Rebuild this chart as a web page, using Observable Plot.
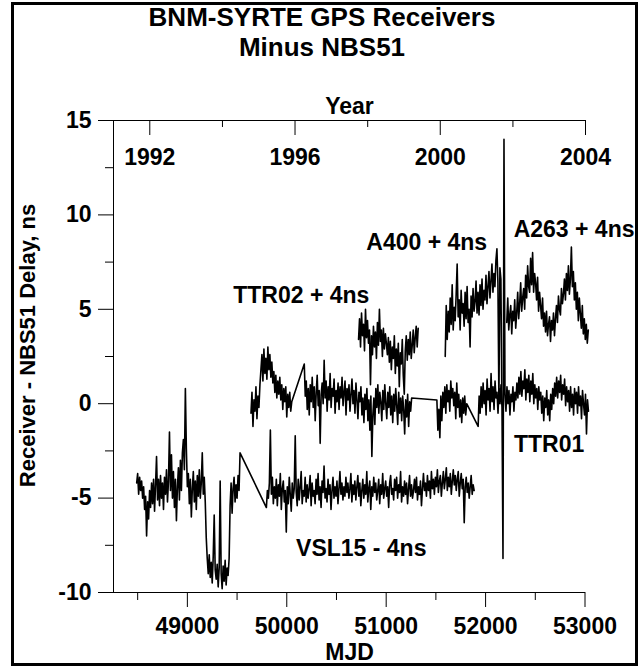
<!DOCTYPE html>
<html>
<head>
<meta charset="utf-8">
<script src="https://cdn.jsdelivr.net/npm/d3@7"></script>
<script src="https://cdn.jsdelivr.net/npm/@observablehq/plot@0.6"></script>
<style>
  html, body { margin: 0; padding: 0; background: #fff; }
  #page { position: relative; width: 644px; height: 668px; overflow: hidden; font-family: "Liberation Sans", Arial, sans-serif; }
  #frame { position: absolute; left: 11px; top: 2px; width: 627px; height: 664px; box-sizing: border-box; border: 3px solid #000; pointer-events: none; }
  .title { position: absolute; left: 0; width: 644px; text-align: center; font-weight: bold; font-size: 26px; line-height: 26px; color: #000; }
  #chart { position: absolute; left: 0; top: 90px; }
</style>
</head>
<body>
<div id="page">
  <div class="title" style="top:4px">BNM-SYRTE GPS Receivers</div>
  <div class="title" style="top:34px">Minus NBS51</div>
  <div id="chart"></div>
  <div id="frame"></div>
</div>
<script>
// ---------- data ----------
const dayStep = 10;                       // MJD spacing of the listed samples
const xDomain = [48257, 53005];           // 1991.0 .. 2004.0 in MJD
const yDomain = [-10, 15];

const mjdMajorTicks = [49000, 50000, 51000, 52000, 53000];
const mjdMinorTicks = [48500, 49500, 50500, 51500, 52500];
const yMajorTicks = [-10, -5, 0, 5, 10, 15];
const yMinorTicks = [-7.5, -2.5, 2.5, 7.5, 12.5];
const yearMajorMjd = [48622, 50083, 51544, 53005];
const yearMajorLabels = ["1992", "1996", "2000", "2004"];
const yearMinorMjd = [49353, 50814, 52275];

// VSL15 - 4ns
const vsl15Starts = [48490, 49795];
const vsl15A = [
  -4.2,-3.7,-4.8,-3.9,-4.6,-4.1,-5.0,-4.4,-5.6,-4.9,
  -7.0,-5.2,-6.1,-4.6,-5.5,-4.2,-5.3,-4.0,-5.7,-4.3,
  -2.8,-5.1,-4.0,-5.4,-3.8,-5.0,-4.2,-5.6,-3.9,-4.8,
  -3.5,-5.2,-4.1,-1.5,-4.6,-2.7,-5.0,-3.6,-5.5,-4.0,
  -6.2,-4.4,-3.4,-5.1,-3.0,-4.6,-2.6,-1.9,-3.5,0.8,
  -2.4,-4.4,-3.7,-5.3,-4.0,-6.0,-4.5,-3.6,-5.2,-4.1,
  -5.6,-3.8,-4.9,-3.5,-5.0,-4.2,-2.6,-4.8,-3.9,-5.2,
  -7.1,-8.2,-9.0,-8.0,-9.2,-8.4,-9.5,-8.1,-5.9,-8.8,
  -9.3,-8.5,-9.7,-8.7,-4.1,-9.0,-9.8,-8.6,-9.4,-8.3,
  -9.6,-8.7,-9.1,-8.2,-5.4,-4.2,-5.8,-4.5,-3.9,-5.2,
  -4.3,-5.0,-3.8,-4.6,-2.6
];
const vsl15B = [
  -5.5,-4.6,-5.0,-4.2,-1.4,-4.8,-3.9,-5.3,-4.4,-5.0,
  -4.0,-5.4,-4.3,-4.9,-3.7,-5.6,-4.5,-4.1,-5.2,-4.6,
  -6.8,-4.4,-5.3,-3.9,-4.8,-5.7,-4.2,-5.0,-4.5,-1.7,
  -4.7,-5.4,-4.0,-5.1,-4.4,-3.6,-5.3,-4.6,-4.9,-3.9,
  -5.2,-4.3,-5.0,-4.5,-3.8,-5.4,-4.2,-4.9,-4.6,-5.3,
  -4.0,-4.8,-3.7,-5.1,-4.4,-5.5,-4.1,-4.7,-3.3,-5.0,
  -4.5,-5.2,-4.0,-4.8,-4.3,-5.6,-4.6,-3.9,-5.0,-4.4,
  -4.9,-4.1,-5.3,-4.5,-3.6,-4.8,-4.2,-5.1,-4.4,-4.9,
  -3.9,-4.7,-4.2,-5.0,-4.5,-3.7,-5.2,-4.3,-4.8,-4.1,
  -5.1,-4.4,-3.8,-4.9,-4.2,-5.4,-4.6,-4.0,-5.0,-4.3,
  -4.8,-3.6,-5.2,-4.5,-4.1,-5.6,-4.4,-4.9,-3.9,-4.7,
  -4.2,-5.1,-4.6,-4.0,-5.3,-4.3,-4.8,-3.7,-5.0,-4.5,
  -4.1,-4.9,-4.4,-5.5,-4.2,-3.8,-4.8,-4.5,-5.1,-4.0,
  -4.6,-3.9,-5.0,-4.3,-4.7,-3.6,-5.2,-4.4,-4.9,-4.1,
  -4.8,-4.2,-5.3,-4.5,-3.8,-4.9,-4.3,-5.0,-4.6,-4.0,
  -4.7,-3.9,-5.1,-4.4,-4.8,-4.1,-5.4,-4.5,-3.7,-4.6,
  -4.2,-4.9,-3.8,-4.6,-4.1,-5.0,-3.6,-4.5,-4.0,-4.8,
  -3.9,-4.4,-3.5,-4.7,-4.1,-3.8,-4.9,-4.2,-3.6,-4.5,
  -4.0,-3.4,-4.6,-3.9,-4.4,-3.7,-4.8,-4.1,-3.5,-4.3,
  -3.8,-4.6,-4.0,-3.6,-4.9,-4.2,-3.7,-4.5,-4.0,-6.3,
  -4.4,-3.9,-4.7,-4.2,-5.0,-4.4,-3.8,-4.8,-4.3,-4.6
];

// TTR01
const ttr01Starts = [49640, 50176, 51510, 51925];
const ttr01Seg1 = [
  -0.5,0.6,-1.2,0.2,-0.4,0.9,-0.8,0.4,-0.2,1.0,
  1.8,2.6,1.2,2.9,1.6,2.4,1.3,3.0,1.8,2.6,
  1.4,2.2,1.1,1.7,0.6,1.5,0.3,1.2,0.5,1.4,
  0.2,1.0,-0.3,0.8,0.1,0.9,-0.7,0.5,-0.2,0.6,
  -0.4,0.1
];
const ttr01Seg2 = [
  2.1,0.4,1.2,-0.3,0.8,-0.6,1.0,0.1,1.4,-0.2,
  0.9,-0.9,0.6,1.5,-0.1,0.7,-2.1,0.5,1.1,0.0,
  2.3,0.3,1.2,-0.4,0.9,0.2,1.6,-0.2,0.8,0.4,
  1.3,-0.5,0.7,0.1,1.1,-0.3,0.9,0.3,1.4,-0.1,
  0.6,1.2,-0.6,0.8,0.2,1.0,-0.4,0.5,1.3,0.0,
  0.7,-0.5,1.1,0.2,-0.8,0.6,0.1,0.9,-0.6,0.3,
  -1.0,0.5,-0.3,0.8,-0.9,0.2,-1.4,0.4,-2.8,-0.6,
  0.3,-1.1,0.8,-0.2,1.0,-0.5,0.6,0.1,-0.9,0.7,
  -0.3,1.0,0.0,-0.8,0.6,-0.2,0.9,-0.6,0.4,-1.0,
  0.5,-0.4,0.8,-0.1,-1.1,0.6,-0.5,0.3,-0.9,0.4,
  -0.3,-1.6,0.2,-0.7,0.5,-1.2,0.1,-0.4,0.3
];
const ttr01Seg3 = [
  0.2,-1.4,-0.3,-1.8,0.4,-0.9,0.6,-0.2,0.9,-0.5,
  1.0,0.1,0.7,-0.4,1.2,0.3,0.8,-0.1,0.6,-0.8,
  1.1,-0.2,0.5,-0.7,0.2,-1.0,0.3,-0.5,0.4,-0.6,
  0.0
];
const ttr01Seg4 = [
  -1.2,0.4,-0.5,0.9,-0.2,1.1,0.0,0.7,-0.6,1.3,
  0.2,0.8,-0.4,1.6,0.1,0.9,-0.3,1.2,0.3,0.6,
  -0.5,0.8,0.0,1.0,-0.2,-8.2,14.0,0.5,-0.4,0.9,
  0.0,0.7,-0.6,0.5,0.1,0.9,-0.4,0.6,0.2,1.1,
  0.3,1.4,0.5,1.7,0.4,1.2,0.8,1.8,0.2,1.3,
  0.6,1.5,0.1,1.2,0.5,1.6,0.0,1.0,0.3,0.8,
  -0.3,0.9,0.2,0.6,-0.5,0.4,-0.9,0.3,-0.2,0.7,
  -0.6,0.2,-0.9,0.5,-0.3,0.8,0.0,1.1,0.4,1.4,
  0.3,1.2,0.6,1.5,0.2,1.0,0.5,1.3,-0.1,0.9,
  0.1,0.7,-0.4,0.9,-0.2,0.5,-0.6,0.8,0.0,0.6,
  -0.5,0.9,-0.1,0.4,-0.8,0.7,0.0,-0.6,0.5,-1.6,
  0.2,-0.4
];

// TTR02 + 4ns
const ttr02Start = 50722;
const ttr02Values = [
  3.4,4.5,3.0,4.8,3.6,4.2,2.8,5.0,3.5,4.4,
  3.2,3.9,1.0,3.6,2.6,4.1,3.0,3.8,2.4,4.3,
  3.1,5.0,3.3,3.9,2.5,4.0,2.9,3.7,3.2,2.6,
  3.5,2.2,3.3,1.8,3.0,2.4,3.6,1.6,2.9,2.0,
  3.2,0.9,2.7,2.1,3.4,1.5,0.5,2.8,3.6,2.3,
  3.4,2.6,3.8,2.4,3.1,3.9,2.7,3.5,4.1,3.0,
  4.0
];

// A400 + 4ns
const a400Start = 51594;
const a400Values = [
  2.5,5.2,3.4,4.9,3.8,5.6,4.2,6.3,3.9,5.1,
  4.4,5.8,7.4,4.6,5.5,3.9,6.0,4.8,5.3,4.1,
  5.9,4.5,6.2,4.3,5.0,3.0,5.7,4.6,6.1,4.9,
  5.4,6.5,4.8,5.9,4.7,6.3,5.2,6.6,5.0,6.0,
  5.5,6.8,5.3,6.2,7.0,5.6,6.5,7.4,5.9,6.9,
  6.2,7.6,8.2,6.4,0.2,7.2,6.6,0.0
];

// A263 + 4ns
const a263Start = 52213;
const a263Values = [
  4.3,5.6,3.9,4.7,5.2,3.7,4.9,4.4,5.5,4.0,
  4.8,5.9,4.5,5.3,6.4,4.9,5.6,6.1,5.0,6.8,
  5.6,7.3,6.2,5.9,7.7,6.3,8.0,5.9,6.9,6.4,
  5.5,6.7,4.9,5.9,5.2,4.5,5.6,4.1,4.8,3.8,
  4.9,3.6,4.2,4.6,3.3,4.4,3.9,4.8,3.6,4.5,
  5.2,4.3,5.7,5.0,4.7,6.1,5.3,5.8,6.6,5.5,
  6.9,6.0,7.3,5.8,6.6,8.3,6.2,7.0,5.5,6.4,
  5.0,5.9,4.4,5.6,4.8,4.0,5.2,3.7,4.5,3.4,
  4.2,3.2,3.9
];

// series annotations (placed in data coordinates)
const labelTexts = ["TTR02 + 4ns", "A400 + 4ns", "A263 + 4ns", "TTR01", "VSL15 - 4ns"];
const labelMjd = [50146, 51408, 52890, 52639, 50749];
const labelValue = [5.75, 8.51, 9.22, -2.15, -7.66];

// ---------- build table ----------
function expand(series, start, values) {
  return values.map((v, i) => ({series, mjd: start + i * dayStep, v}));
}
const rows = [
  ...expand("VSL15", vsl15Starts[0], vsl15A),
  ...expand("VSL15", vsl15Starts[1], vsl15B),
  ...expand("TTR01", ttr01Starts[0], ttr01Seg1),
  ...expand("TTR01", ttr01Starts[1], ttr01Seg2),
  ...expand("TTR01", ttr01Starts[2], ttr01Seg3),
  ...expand("TTR01", ttr01Starts[3], ttr01Seg4),
  ...expand("TTR02", ttr02Start, ttr02Values),
  ...expand("A400", a400Start, a400Values),
  ...expand("A263", a263Start, a263Values)
];
const labels = labelTexts.map((t, i) => ({t, mjd: labelMjd[i], v: labelValue[i]}));

const W = 644, H = 578, mT = 30, mB = 76, mL = 113, mR = 59;
const innerH = H - mT - mB;
const font = {fontSize: 23, fontWeight: "bold"};

const chart = Plot.plot({
  width: W, height: H,
  marginTop: mT, marginBottom: mB, marginLeft: mL, marginRight: mR,
  style: {fontFamily: "'Liberation Sans', Arial, sans-serif", background: "transparent", overflow: "visible", color: "#000"},
  x: {domain: xDomain},
  y: {domain: yDomain},
  marks: [
    // axis lines
    Plot.ruleY([yDomain[1]], {stroke: "#000"}),
    Plot.ruleY([yDomain[0]], {stroke: "#000"}),
    Plot.ruleX([xDomain[0]], {stroke: "#000"}),
    // bottom MJD axis
    Plot.axisX(mjdMajorTicks, {tickSize: 15, tickPadding: 10, tickFormat: d => String(d), label: null, ...font}),
    Plot.axisX(mjdMinorTicks, {tickSize: 8, tickFormat: () => "", label: null}),
    // left axis
    Plot.axisY(yMajorTicks, {tickSize: 15, tickPadding: 7, tickFormat: d => String(d), label: null, ...font}),
    Plot.axisY(yMinorTicks, {tickSize: 8, tickFormat: () => "", label: null}),
    // top year axis (ticks inside)
    Plot.tickX(yearMajorMjd, {x: d => d, stroke: "#000", insetBottom: innerH - 15}),
    Plot.tickX(yearMinorMjd, {x: d => d, stroke: "#000", insetBottom: innerH - 7}),
    Plot.text(yearMajorMjd, {x: d => d, text: (d, i) => yearMajorLabels[i], frameAnchor: "top", lineAnchor: "top", dy: 28, ...font}),
    Plot.text(["Year"], {frameAnchor: "top", lineAnchor: "bottom", dy: -7, ...font}),
    Plot.text(["MJD"], {frameAnchor: "bottom", lineAnchor: "top", dy: 51, ...font}),
    Plot.text(["Receiver - NBS51 Delay, ns"], {frameAnchor: "left", textAnchor: "middle", rotate: -90, dx: -86, dy: -11, fontSize: 22, fontWeight: "bold"}),
    // data
    Plot.line(rows, {x: "mjd", y: "v", z: "series", stroke: "#000", strokeWidth: 1.6}),
    // annotations
    Plot.text(labels, {x: "mjd", y: "v", text: "t", ...font})
  ]
});
document.getElementById("chart").appendChild(chart);
</script>
</body>
</html>
